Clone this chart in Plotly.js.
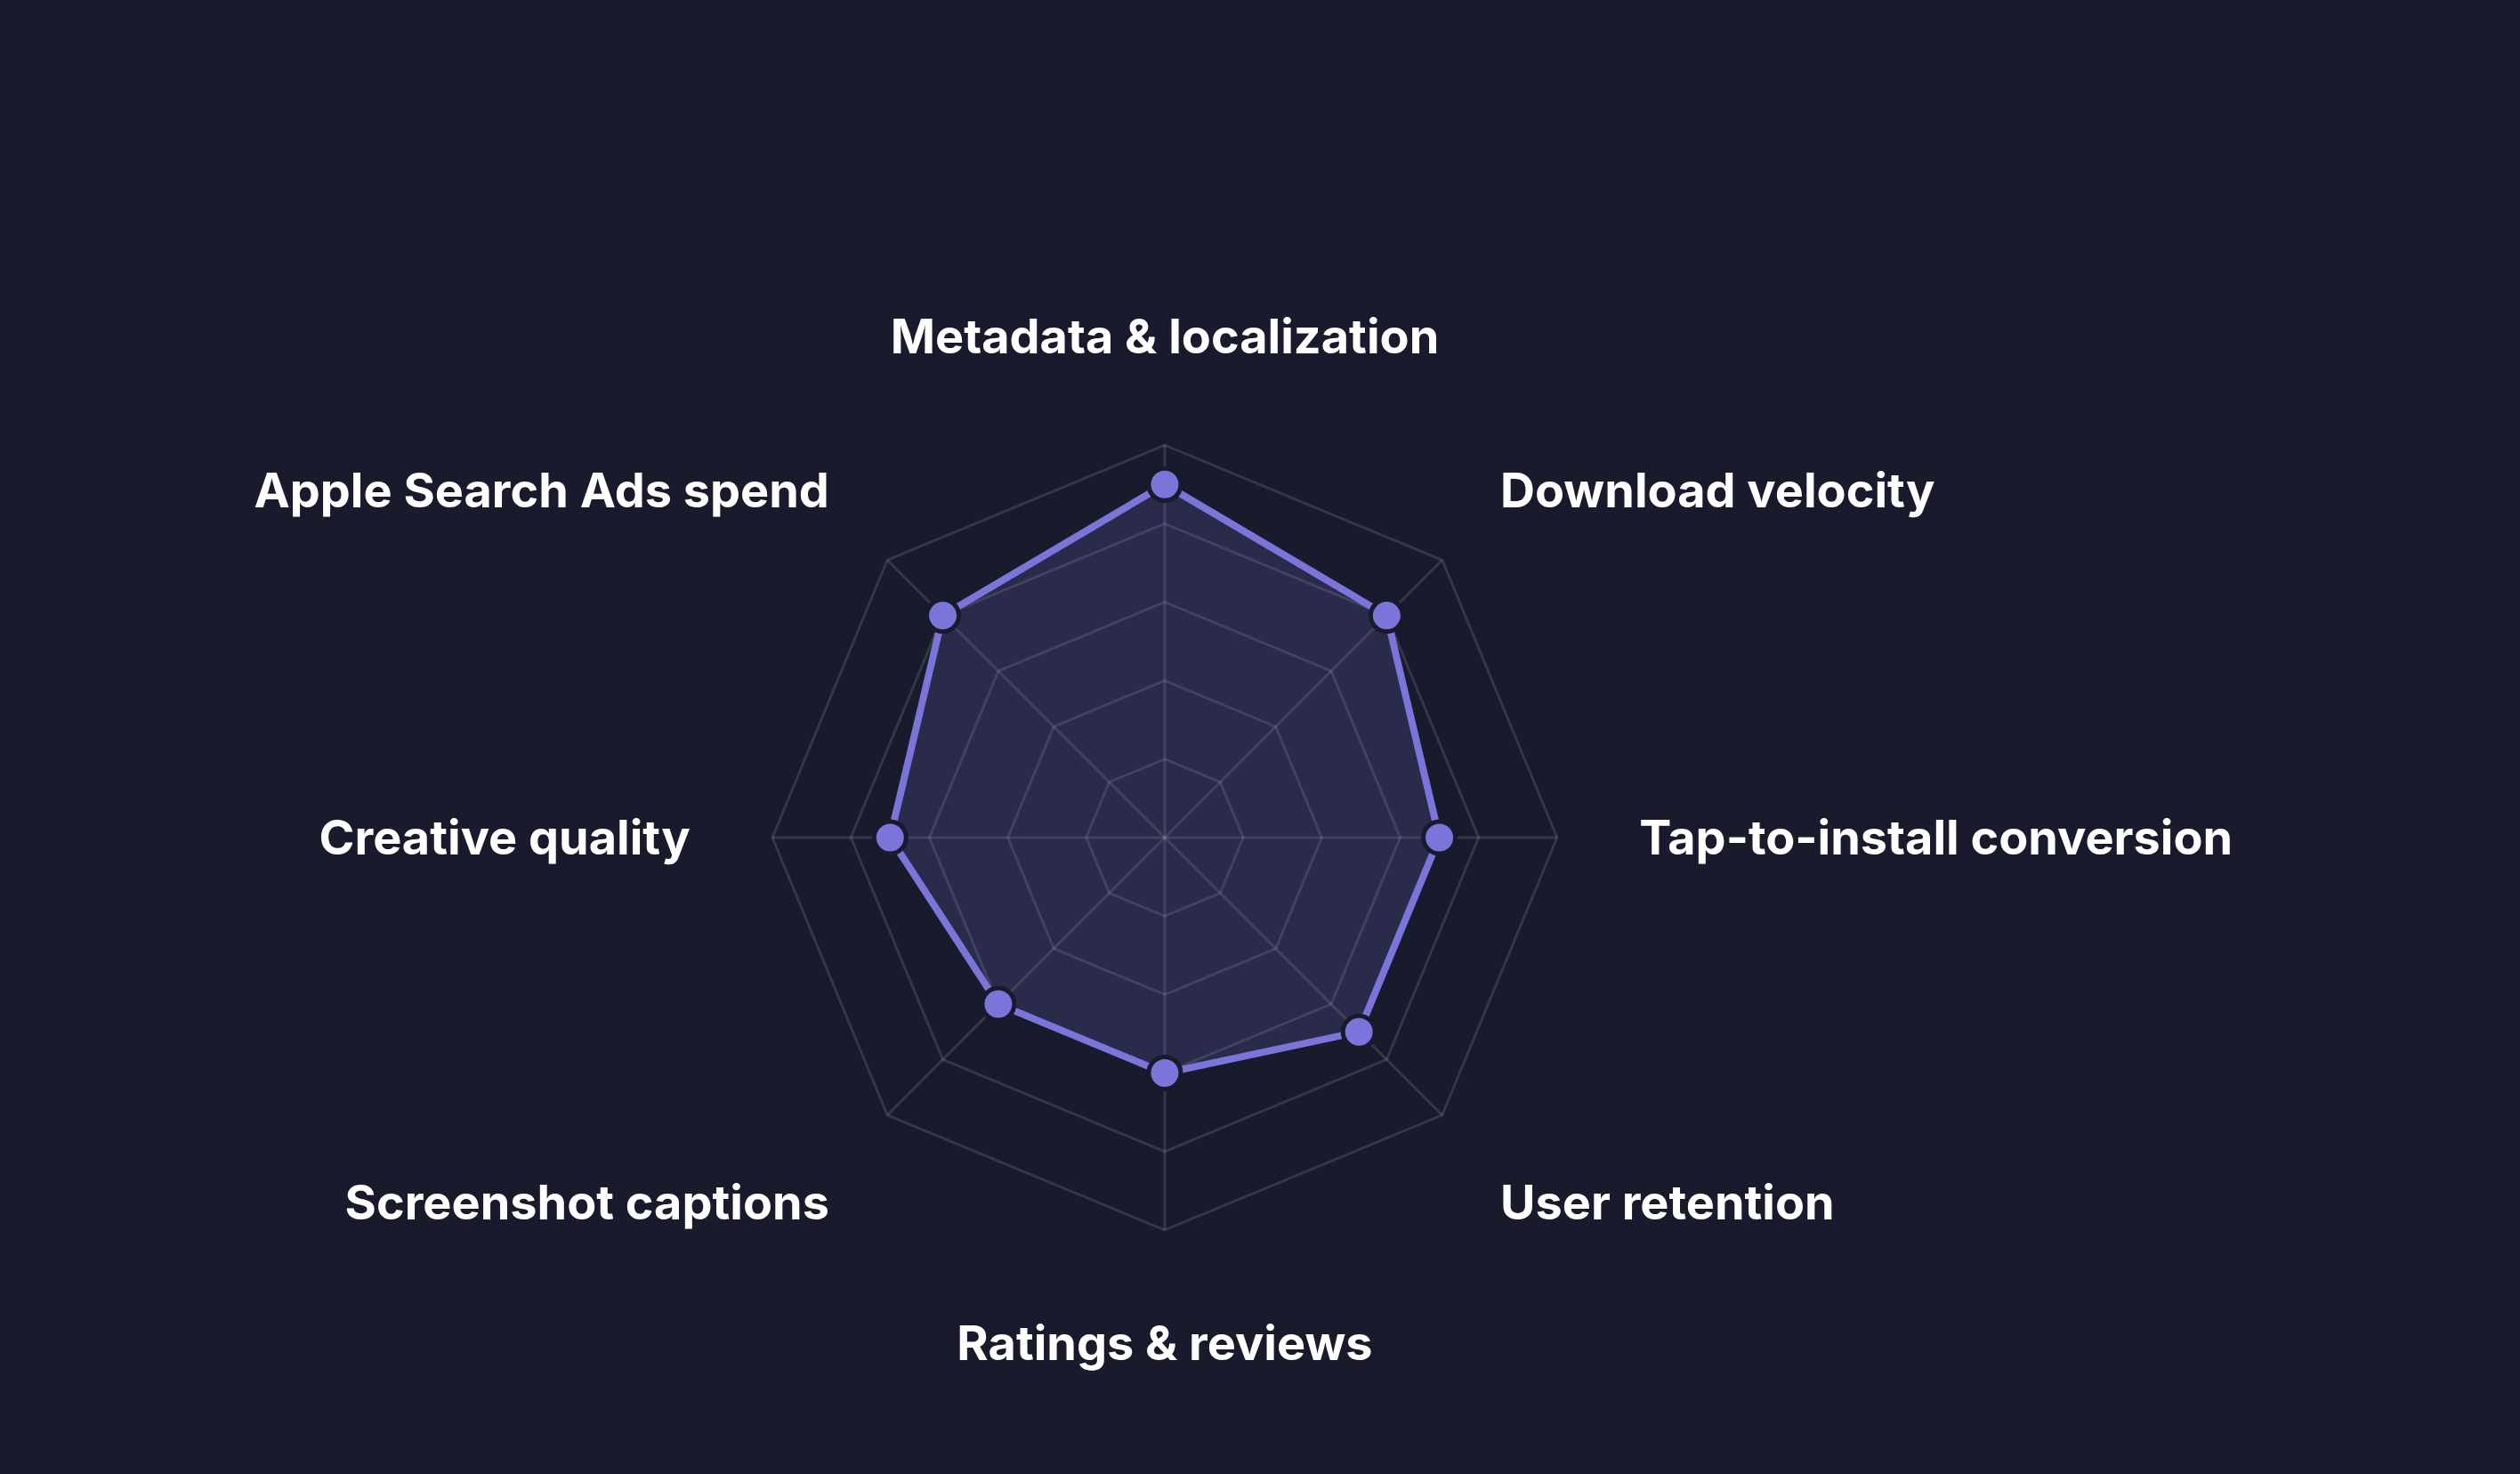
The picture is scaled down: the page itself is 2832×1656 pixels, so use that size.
<!DOCTYPE html>
<html>
<head>
<meta charset="utf-8">
<script src="https://cdn.plot.ly/plotly-3.0.1.min.js"></script>
<style>html,body{margin:0;padding:0;background:#191a2b;}#chart{width:2832px;height:1656px;}</style>
</head>
<body>
<div id="chart"></div>
<script>
const categories = [
  "Metadata & localization",
  "Download velocity",
  "Tap-to-install conversion",
  "User retention",
  "Ratings & reviews",
  "Screenshot captions",
  "Creative quality",
  "Apple Search Ads spend"
];
const scores = [90, 80, 70, 70, 60, 60, 70, 80];
const radialTicks = [0, 20, 40, 60, 80, 100];

const trace = {
  type: "scatterpolar",
  r: scores.concat([scores[0]]),
  theta: categories.concat([categories[0]]),
  mode: "lines+markers",
  fill: "toself",
  fillcolor: "rgba(123,116,217,0.18)",
  line: {color: "#7b74d9", width: 8},
  marker: {size: 36, color: "#7b74d9", line: {color: "#191a2b", width: 5}},
  hoverinfo: "skip"
};

const layout = {
  width: 2832, height: 1656,
  paper_bgcolor: "#191a2b",
  plot_bgcolor: "#191a2b",
  margin: {l: 0, r: 0, t: 0, b: 0},
  showlegend: false,
  font: {family: "Inter, 'Open Sans', sans-serif", color: "#ffffff"},
  polar: {
    domain: {x: [0.3065, 0.6179], y: [0.1655, 0.698]},
    bgcolor: "rgba(0,0,0,0)",
    gridshape: "linear",
    radialaxis: {
      range: [0, 100],
      tickvals: radialTicks,
      showticklabels: false,
      ticks: "",
      showline: false,
      gridcolor: "rgba(255,255,255,0.13)",
      gridwidth: 3,
      angle: 90
    },
    angularaxis: {
      direction: "clockwise",
      rotation: 90,
      gridcolor: "rgba(255,255,255,0.13)",
      gridwidth: 3,
      linecolor: "rgba(255,255,255,0.13)",
      linewidth: 3,
      showline: true,
      ticks: "outside",
      ticklen: 80,
      tickcolor: "rgba(0,0,0,0)",
      tickfont: {size: 54, color: "#ffffff", family: "Inter, 'Open Sans', sans-serif", weight: 700}
    }
  }
};

Plotly.newPlot("chart", [trace], layout, {displayModeBar: false, staticPlot: true});
</script>
</body>
</html>
